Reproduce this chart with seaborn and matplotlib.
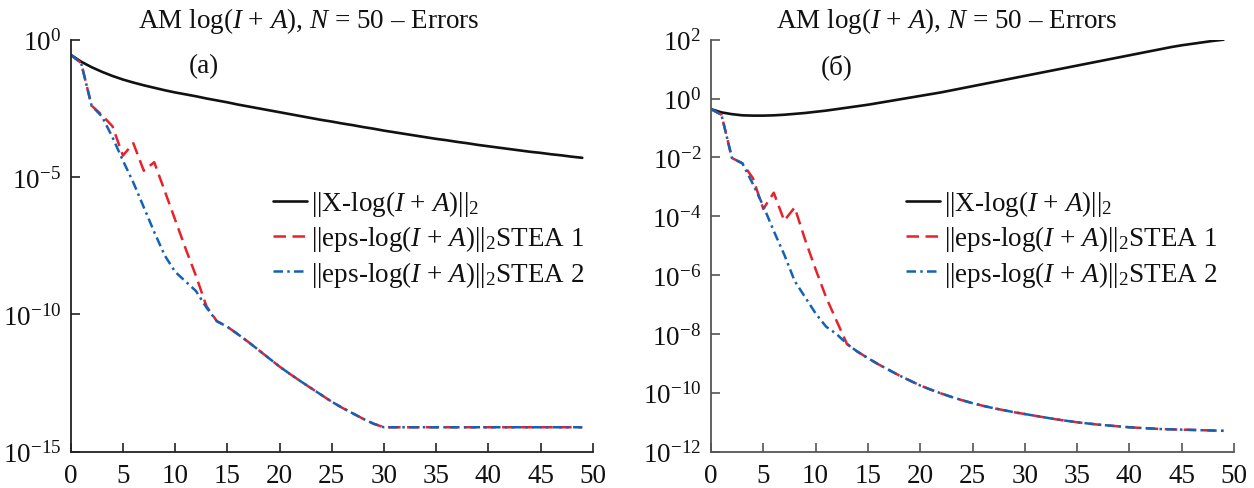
import numpy as np
import pandas as pd
import matplotlib
matplotlib.use("Agg")
import matplotlib.pyplot as plt
import seaborn as sns
from matplotlib.ticker import FixedLocator, NullLocator, LogFormatterSciNotation

# ---------------- data (log10 of the errors) ----------------
iterations = list(range(50))

left_exact_log10 = [-0.55, -0.80, -1.00, -1.17, -1.32, -1.45, -1.56, -1.66, -1.75, -1.84,
                    -1.92, -1.99, -2.06, -2.14, -2.21, -2.28, -2.36, -2.43, -2.50, -2.57,
                    -2.64, -2.71, -2.78, -2.85, -2.92, -2.98, -3.05, -3.11, -3.18, -3.24,
                    -3.31, -3.37, -3.43, -3.49, -3.55, -3.61, -3.66, -3.72, -3.77, -3.83,
                    -3.88, -3.93, -3.98, -4.03, -4.08, -4.12, -4.17, -4.21, -4.26, -4.30]
left_stea1_log10 = [-0.55, -0.85, -2.40, -2.75, -3.15, -4.22, -3.77, -4.77, -4.46, -5.50,
                    -6.55, -7.60, -8.60, -9.70, -10.25, -10.45, -10.72, -11.00, -11.30, -11.60,
                    -11.90, -12.17, -12.43, -12.68, -12.93, -13.18, -13.40, -13.60, -13.80, -13.98,
                    -14.11, -14.11, -14.11, -14.11, -14.11, -14.11, -14.11, -14.11, -14.11, -14.11,
                    -14.11, -14.11, -14.11, -14.11, -14.11, -14.11, -14.11, -14.11, -14.11, -14.11]
left_stea2_log10 = [-0.55, -0.85, -2.40, -2.80, -3.55, -4.40, -5.20, -6.10, -7.00, -7.85,
                    -8.45, -8.80, -9.15, -9.75, -10.25, -10.45, -10.72, -11.00, -11.30, -11.60,
                    -11.90, -12.17, -12.43, -12.68, -12.93, -13.18, -13.40, -13.60, -13.80, -13.98,
                    -14.11, -14.11, -14.11, -14.11, -14.11, -14.11, -14.11, -14.11, -14.11, -14.11,
                    -14.11, -14.11, -14.11, -14.11, -14.11, -14.11, -14.11, -14.11, -14.11, -14.11]

right_exact_log10 = [-0.36, -0.47, -0.53, -0.57, -0.58, -0.58, -0.57, -0.55, -0.52, -0.49,
                     -0.45, -0.41, -0.36, -0.31, -0.26, -0.21, -0.15, -0.09, -0.03, 0.03,
                     0.09, 0.15, 0.21, 0.28, 0.35, 0.42, 0.49, 0.56, 0.63, 0.70,
                     0.77, 0.84, 0.91, 0.98, 1.05, 1.12, 1.19, 1.26, 1.33, 1.40,
                     1.47, 1.54, 1.61, 1.68, 1.75, 1.81, 1.86, 1.91, 1.96, 2.00]
right_stea1_log10 = [-0.36, -0.55, -2.02, -2.20, -2.70, -3.75, -3.20, -4.15, -3.70, -4.80,
                     -5.80, -6.75, -7.55, -8.34, -8.60, -8.82, -9.03, -9.22, -9.41, -9.58,
                     -9.75, -9.89, -10.02, -10.14, -10.25, -10.35, -10.44, -10.52, -10.59, -10.66,
                     -10.72, -10.78, -10.84, -10.90, -10.95, -11.00, -11.04, -11.08, -11.11, -11.14,
                     -11.17, -11.19, -11.21, -11.23, -11.24, -11.25, -11.26, -11.27, -11.28, -11.29]
right_stea2_log10 = [-0.36, -0.55, -2.02, -2.20, -2.90, -3.65, -4.50, -5.30, -6.20, -6.75,
                     -7.30, -7.75, -8.00, -8.34, -8.60, -8.82, -9.03, -9.22, -9.41, -9.58,
                     -9.75, -9.89, -10.02, -10.14, -10.25, -10.35, -10.44, -10.52, -10.59, -10.66,
                     -10.72, -10.78, -10.84, -10.90, -10.95, -11.00, -11.04, -11.08, -11.11, -11.14,
                     -11.17, -11.19, -11.21, -11.23, -11.24, -11.25, -11.26, -11.27, -11.28, -11.29]

x_ticks = [0, 5, 10, 15, 20, 25, 30, 35, 40, 45, 50]
left_y_ticks = [1e-15, 1e-10, 1e-5, 1e0]
right_y_ticks = [1e-12, 1e-10, 1e-8, 1e-6, 1e-4, 1e-2, 1e0, 1e2]

title_text = r"AM log($I$ + $A$), $N$ = 50 – Errors"
label_exact = r"||X-log($I$ + $A$)||$_2$"
label_stea1 = r"||eps-log($I$ + $A$)||$_2$STEA 1"
label_stea2 = r"||eps-log($I$ + $A$)||$_2$STEA 2"
panel_labels = ["(a)", "(б)"]

# ---------------- style ----------------
sns.set_style("ticks")
plt.rcParams["font.family"] = ["Liberation Serif", "DejaVu Serif"]
plt.rcParams["mathtext.fontset"] = "custom"
plt.rcParams["mathtext.rm"] = "Liberation Serif"
plt.rcParams["mathtext.it"] = "Liberation Serif:italic"
plt.rcParams["mathtext.bf"] = "Liberation Serif:bold"
plt.rcParams["axes.unicode_minus"] = True

FS = 19.5
BLACK = "#111111"
RED = "#e8212b"
BLUE = "#1462b4"

fig = plt.figure(figsize=(12.54, 4.89), dpi=100)
W, H = 1254.0, 489.0
axL = fig.add_axes([70.7 / W, (H - 452.7) / H, 522 / W, 412 / H])
axR = fig.add_axes([711 / W, (H - 452.7) / H, 523 / W, 412 / H])

panels = [
    (axL, left_exact_log10, left_stea1_log10, left_stea2_log10, left_y_ticks,
     (1e-15, 1e0), "#222222", 0.4565, (12.8, 10 ** -0.96), (0.3875, 0.64)),
    (axR, right_exact_log10, right_stea1_log10, right_stea2_log10, right_y_ticks,
     (1e-12, 1e2), "#555555", 0.451, (12.0, 10 ** 1.11), (0.373, 0.64)),
]

for i, (ax, ex, s1, s2, yt, ylim, spc, tx, plab, legpos) in enumerate(panels):
    df = pd.DataFrame({
        "iter": iterations,
        "exact": 10.0 ** np.array(ex),
        "s1": 10.0 ** np.array(s1),
        "s2": 10.0 ** np.array(s2),
    })
    sns.lineplot(data=df, x="iter", y="exact", ax=ax, color=BLACK, linewidth=1.9,
                 label=label_exact)
    sns.lineplot(data=df, x="iter", y="s1", ax=ax, color=RED, linewidth=1.8,
                 linestyle=(0, (5.0, 2.6)), label=label_stea1)
    sns.lineplot(data=df, x="iter", y="s2", ax=ax, color=BLUE, linewidth=1.8,
                 linestyle=(0, (3.8, 1.7, 1.0, 1.7)), label=label_stea2)

    ax.set_yscale("log")
    ax.set_ylim(*ylim)
    ax.set_xlim(0, 50)
    ax.yaxis.set_major_locator(FixedLocator(yt))
    ax.yaxis.set_minor_locator(NullLocator())
    ax.yaxis.set_major_formatter(LogFormatterSciNotation())
    ax.xaxis.set_major_locator(FixedLocator(x_ticks))
    ax.set_xlabel("")
    ax.set_ylabel("")
    for side in ["top", "right"]:
        ax.spines[side].set_visible(False)
    for side in ["left", "bottom"]:
        ax.spines[side].set_color(spc)
        ax.spines[side].set_linewidth(1.3)
    ax.tick_params(axis="both", which="major", direction="in", length=6.5, width=1.2,
                   color=spc, labelsize=FS, labelcolor="#111111")
    ax.tick_params(axis="y", pad=7)
    ax.tick_params(axis="x", pad=8)

    ax.text(tx, 1.031, title_text, transform=ax.transAxes, ha="center",
            va="baseline", fontsize=FS, color="#111111")
    ax.text(plab[0], plab[1], panel_labels[i], ha="center", va="center",
            fontsize=FS, color="#111111")

    leg = ax.legend(loc="upper left", bbox_to_anchor=legpos, frameon=False,
                    fontsize=FS, handlelength=1.25, handletextpad=0.15,
                    borderpad=0, borderaxespad=0, labelspacing=0.2)
    for t in leg.get_texts():
        t.set_color("#111111")

fig.savefig("out.png", dpi=100)
